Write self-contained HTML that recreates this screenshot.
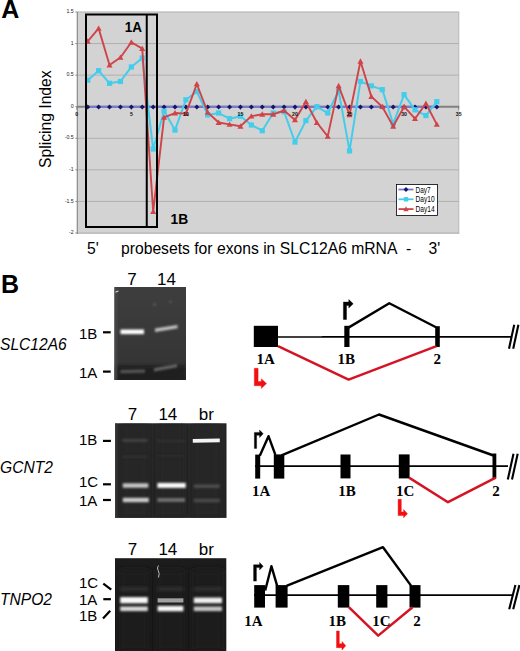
<!DOCTYPE html>
<html><head><meta charset="utf-8"><style>
html,body{margin:0;padding:0;background:#fff;overflow:hidden;width:520px;height:651px;}
svg{display:block;}
</style></head><body>
<svg width="520" height="651" viewBox="0 0 520 651">
<defs><filter id="bl0_8" filterUnits="userSpaceOnUse" x="0" y="0" width="520" height="651"><feGaussianBlur stdDeviation="0.8"/></filter><filter id="bl1_5" filterUnits="userSpaceOnUse" x="0" y="0" width="520" height="651"><feGaussianBlur stdDeviation="1.5"/></filter><filter id="bl1_1" filterUnits="userSpaceOnUse" x="0" y="0" width="520" height="651"><feGaussianBlur stdDeviation="1.1"/></filter><filter id="bl3_0" filterUnits="userSpaceOnUse" x="0" y="0" width="520" height="651"><feGaussianBlur stdDeviation="3.0"/></filter><filter id="bl0_5" filterUnits="userSpaceOnUse" x="0" y="0" width="520" height="651"><feGaussianBlur stdDeviation="0.5"/></filter><filter id="bl1_2" filterUnits="userSpaceOnUse" x="0" y="0" width="520" height="651"><feGaussianBlur stdDeviation="1.2"/></filter><filter id="bl0_7" filterUnits="userSpaceOnUse" x="0" y="0" width="520" height="651"><feGaussianBlur stdDeviation="0.7"/></filter><filter id="bl0_9" filterUnits="userSpaceOnUse" x="0" y="0" width="520" height="651"><feGaussianBlur stdDeviation="0.9"/></filter><filter id="bl1_0" filterUnits="userSpaceOnUse" x="0" y="0" width="520" height="651"><feGaussianBlur stdDeviation="1.0"/></filter><linearGradient id="g1" x1="0" y1="0" x2="0" y2="1"><stop offset="0" stop-color="#3e3e3e"/><stop offset="0.8" stop-color="#353535"/><stop offset="1" stop-color="#2c2c2c"/></linearGradient><linearGradient id="g2" x1="0" y1="0" x2="0" y2="1"><stop offset="0" stop-color="#262626"/><stop offset="1" stop-color="#222"/></linearGradient><linearGradient id="g3" x1="0" y1="0" x2="0" y2="1"><stop offset="0" stop-color="#1c1c1c"/><stop offset="1" stop-color="#191919"/></linearGradient></defs>
<rect x="77.3" y="12.0" width="381.9" height="222.0" fill="#d3d3d3"/>
<line x1="77.3" x2="459.2" y1="11.975000000000009" y2="11.975000000000009" stroke="#b0b0b0" stroke-width="1"/>
<line x1="77.3" x2="459.2" y1="43.550000000000004" y2="43.550000000000004" stroke="#b0b0b0" stroke-width="1"/>
<line x1="77.3" x2="459.2" y1="75.125" y2="75.125" stroke="#b0b0b0" stroke-width="1"/>
<line x1="77.3" x2="459.2" y1="138.275" y2="138.275" stroke="#b0b0b0" stroke-width="1"/>
<line x1="77.3" x2="459.2" y1="169.85" y2="169.85" stroke="#b0b0b0" stroke-width="1"/>
<line x1="77.3" x2="459.2" y1="201.425" y2="201.425" stroke="#b0b0b0" stroke-width="1"/>
<line x1="77.3" x2="459.2" y1="233.0" y2="233.0" stroke="#b0b0b0" stroke-width="1"/>
<line x1="458.7" x2="458.7" y1="12.0" y2="234.0" stroke="#bcbcbc" stroke-width="1"/>
<line x1="77.3" x2="77.3" y1="12.0" y2="234.0" stroke="#8a8a8a" stroke-width="1.2"/>
<line x1="75.3" x2="77.3" y1="11.975000000000009" y2="11.975000000000009" stroke="#777" stroke-width="0.8"/>
<text x="73.7" y="13.075000000000008" font-size="5.2" text-anchor="end" fill="#222" font-family='"Liberation Sans", sans-serif'>1.5</text>
<line x1="75.3" x2="77.3" y1="43.550000000000004" y2="43.550000000000004" stroke="#777" stroke-width="0.8"/>
<text x="73.7" y="44.650000000000006" font-size="5.2" text-anchor="end" fill="#222" font-family='"Liberation Sans", sans-serif'>1</text>
<line x1="75.3" x2="77.3" y1="75.125" y2="75.125" stroke="#777" stroke-width="0.8"/>
<text x="73.7" y="76.225" font-size="5.2" text-anchor="end" fill="#222" font-family='"Liberation Sans", sans-serif'>0.5</text>
<line x1="75.3" x2="77.3" y1="106.7" y2="106.7" stroke="#777" stroke-width="0.8"/>
<text x="73.7" y="107.8" font-size="5.2" text-anchor="end" fill="#222" font-family='"Liberation Sans", sans-serif'>0</text>
<line x1="75.3" x2="77.3" y1="138.275" y2="138.275" stroke="#777" stroke-width="0.8"/>
<text x="73.7" y="139.375" font-size="5.2" text-anchor="end" fill="#222" font-family='"Liberation Sans", sans-serif'>-0.5</text>
<line x1="75.3" x2="77.3" y1="169.85" y2="169.85" stroke="#777" stroke-width="0.8"/>
<text x="73.7" y="170.95" font-size="5.2" text-anchor="end" fill="#222" font-family='"Liberation Sans", sans-serif'>-1</text>
<line x1="75.3" x2="77.3" y1="201.425" y2="201.425" stroke="#777" stroke-width="0.8"/>
<text x="73.7" y="202.525" font-size="5.2" text-anchor="end" fill="#222" font-family='"Liberation Sans", sans-serif'>-1.5</text>
<line x1="75.3" x2="77.3" y1="233.0" y2="233.0" stroke="#777" stroke-width="0.8"/>
<text x="73.7" y="234.1" font-size="5.2" text-anchor="end" fill="#222" font-family='"Liberation Sans", sans-serif'>-2</text>
<line x1="77.3" x2="459.2" y1="106.7" y2="106.7" stroke="#808080" stroke-width="2"/>
<line x1="76.8" x2="76.8" y1="106.7" y2="109.7" stroke="#777" stroke-width="0.8"/>
<line x1="131.35" x2="131.35" y1="106.7" y2="109.7" stroke="#777" stroke-width="0.8"/>
<line x1="185.89999999999998" x2="185.89999999999998" y1="106.7" y2="109.7" stroke="#777" stroke-width="0.8"/>
<line x1="240.45" x2="240.45" y1="106.7" y2="109.7" stroke="#777" stroke-width="0.8"/>
<line x1="295.0" x2="295.0" y1="106.7" y2="109.7" stroke="#777" stroke-width="0.8"/>
<line x1="349.55" x2="349.55" y1="106.7" y2="109.7" stroke="#777" stroke-width="0.8"/>
<line x1="404.1" x2="404.1" y1="106.7" y2="109.7" stroke="#777" stroke-width="0.8"/>
<line x1="458.65000000000003" x2="458.65000000000003" y1="106.7" y2="109.7" stroke="#777" stroke-width="0.8"/>
<line x1="87.71" x2="436.83000000000004" y1="106.9" y2="106.9" stroke="#7a7ac6" stroke-width="2.2"/>
<path d="M87.71 104.40 L90.21 106.90 L87.71 109.40 L85.21 106.90Z" fill="#14146e"/>
<path d="M98.62 104.40 L101.12 106.90 L98.62 109.40 L96.12 106.90Z" fill="#14146e"/>
<path d="M109.53 104.40 L112.03 106.90 L109.53 109.40 L107.03 106.90Z" fill="#14146e"/>
<path d="M120.44 104.40 L122.94 106.90 L120.44 109.40 L117.94 106.90Z" fill="#14146e"/>
<path d="M131.35 104.40 L133.85 106.90 L131.35 109.40 L128.85 106.90Z" fill="#14146e"/>
<path d="M142.26 104.40 L144.76 106.90 L142.26 109.40 L139.76 106.90Z" fill="#14146e"/>
<path d="M153.17 104.40 L155.67 106.90 L153.17 109.40 L150.67 106.90Z" fill="#14146e"/>
<path d="M164.08 104.40 L166.58 106.90 L164.08 109.40 L161.58 106.90Z" fill="#14146e"/>
<path d="M174.99 104.40 L177.49 106.90 L174.99 109.40 L172.49 106.90Z" fill="#14146e"/>
<path d="M185.90 104.40 L188.40 106.90 L185.90 109.40 L183.40 106.90Z" fill="#14146e"/>
<path d="M196.81 104.40 L199.31 106.90 L196.81 109.40 L194.31 106.90Z" fill="#14146e"/>
<path d="M207.72 104.40 L210.22 106.90 L207.72 109.40 L205.22 106.90Z" fill="#14146e"/>
<path d="M218.63 104.40 L221.13 106.90 L218.63 109.40 L216.13 106.90Z" fill="#14146e"/>
<path d="M229.54 104.40 L232.04 106.90 L229.54 109.40 L227.04 106.90Z" fill="#14146e"/>
<path d="M240.45 104.40 L242.95 106.90 L240.45 109.40 L237.95 106.90Z" fill="#14146e"/>
<path d="M251.36 104.40 L253.86 106.90 L251.36 109.40 L248.86 106.90Z" fill="#14146e"/>
<path d="M262.27 104.40 L264.77 106.90 L262.27 109.40 L259.77 106.90Z" fill="#14146e"/>
<path d="M273.18 104.40 L275.68 106.90 L273.18 109.40 L270.68 106.90Z" fill="#14146e"/>
<path d="M284.09 104.40 L286.59 106.90 L284.09 109.40 L281.59 106.90Z" fill="#14146e"/>
<path d="M295.00 104.40 L297.50 106.90 L295.00 109.40 L292.50 106.90Z" fill="#14146e"/>
<path d="M305.91 104.40 L308.41 106.90 L305.91 109.40 L303.41 106.90Z" fill="#14146e"/>
<path d="M316.82 104.40 L319.32 106.90 L316.82 109.40 L314.32 106.90Z" fill="#14146e"/>
<path d="M327.73 104.40 L330.23 106.90 L327.73 109.40 L325.23 106.90Z" fill="#14146e"/>
<path d="M338.64 104.40 L341.14 106.90 L338.64 109.40 L336.14 106.90Z" fill="#14146e"/>
<path d="M349.55 104.40 L352.05 106.90 L349.55 109.40 L347.05 106.90Z" fill="#14146e"/>
<path d="M360.46 104.40 L362.96 106.90 L360.46 109.40 L357.96 106.90Z" fill="#14146e"/>
<path d="M371.37 104.40 L373.87 106.90 L371.37 109.40 L368.87 106.90Z" fill="#14146e"/>
<path d="M382.28 104.40 L384.78 106.90 L382.28 109.40 L379.78 106.90Z" fill="#14146e"/>
<path d="M393.19 104.40 L395.69 106.90 L393.19 109.40 L390.69 106.90Z" fill="#14146e"/>
<path d="M404.10 104.40 L406.60 106.90 L404.10 109.40 L401.60 106.90Z" fill="#14146e"/>
<path d="M415.01 104.40 L417.51 106.90 L415.01 109.40 L412.51 106.90Z" fill="#14146e"/>
<path d="M425.92 104.40 L428.42 106.90 L425.92 109.40 L423.42 106.90Z" fill="#14146e"/>
<path d="M436.83 104.40 L439.33 106.90 L436.83 109.40 L434.33 106.90Z" fill="#14146e"/>
<polyline points="87.71,80.18 98.62,70.70 109.53,83.33 120.44,81.44 131.35,66.92 142.26,58.07 153.17,149.01 164.08,111.12 174.99,130.07 185.90,99.75 196.81,91.54 207.72,114.91 218.63,113.02 229.54,118.70 240.45,116.17 251.36,125.01 262.27,130.70 273.18,113.02 284.09,111.75 295.00,142.06 305.91,120.59 316.82,106.70 327.73,113.02 338.64,90.91 349.55,150.91 360.46,81.44 371.37,85.86 382.28,89.65 393.19,123.75 404.10,94.70 415.01,109.86 425.92,115.54 436.83,101.65" fill="none" stroke="#44cdea" stroke-width="2" stroke-linejoin="round"/>
<rect x="85.11" y="77.58" width="5.2" height="5.2" fill="#44cdea"/>
<rect x="96.02" y="68.10" width="5.2" height="5.2" fill="#44cdea"/>
<rect x="106.93" y="80.73" width="5.2" height="5.2" fill="#44cdea"/>
<rect x="117.84" y="78.84" width="5.2" height="5.2" fill="#44cdea"/>
<rect x="128.75" y="64.32" width="5.2" height="5.2" fill="#44cdea"/>
<rect x="139.66" y="55.47" width="5.2" height="5.2" fill="#44cdea"/>
<rect x="150.57" y="146.41" width="5.2" height="5.2" fill="#44cdea"/>
<rect x="161.48" y="108.52" width="5.2" height="5.2" fill="#44cdea"/>
<rect x="172.39" y="127.47" width="5.2" height="5.2" fill="#44cdea"/>
<rect x="183.30" y="97.15" width="5.2" height="5.2" fill="#44cdea"/>
<rect x="194.21" y="88.94" width="5.2" height="5.2" fill="#44cdea"/>
<rect x="205.12" y="112.31" width="5.2" height="5.2" fill="#44cdea"/>
<rect x="216.03" y="110.42" width="5.2" height="5.2" fill="#44cdea"/>
<rect x="226.94" y="116.10" width="5.2" height="5.2" fill="#44cdea"/>
<rect x="237.85" y="113.57" width="5.2" height="5.2" fill="#44cdea"/>
<rect x="248.76" y="122.41" width="5.2" height="5.2" fill="#44cdea"/>
<rect x="259.67" y="128.10" width="5.2" height="5.2" fill="#44cdea"/>
<rect x="270.58" y="110.42" width="5.2" height="5.2" fill="#44cdea"/>
<rect x="281.49" y="109.15" width="5.2" height="5.2" fill="#44cdea"/>
<rect x="292.40" y="139.46" width="5.2" height="5.2" fill="#44cdea"/>
<rect x="303.31" y="117.99" width="5.2" height="5.2" fill="#44cdea"/>
<rect x="314.22" y="104.10" width="5.2" height="5.2" fill="#44cdea"/>
<rect x="325.13" y="110.42" width="5.2" height="5.2" fill="#44cdea"/>
<rect x="336.04" y="88.31" width="5.2" height="5.2" fill="#44cdea"/>
<rect x="346.95" y="148.31" width="5.2" height="5.2" fill="#44cdea"/>
<rect x="357.86" y="78.84" width="5.2" height="5.2" fill="#44cdea"/>
<rect x="368.77" y="83.26" width="5.2" height="5.2" fill="#44cdea"/>
<rect x="379.68" y="87.05" width="5.2" height="5.2" fill="#44cdea"/>
<rect x="390.59" y="121.15" width="5.2" height="5.2" fill="#44cdea"/>
<rect x="401.50" y="92.10" width="5.2" height="5.2" fill="#44cdea"/>
<rect x="412.41" y="107.26" width="5.2" height="5.2" fill="#44cdea"/>
<rect x="423.32" y="112.94" width="5.2" height="5.2" fill="#44cdea"/>
<rect x="434.23" y="99.05" width="5.2" height="5.2" fill="#44cdea"/>
<polyline points="87.71,41.28 98.62,28.39 109.53,65.02 120.44,57.44 131.35,42.29 142.26,48.60 153.17,211.53 164.08,117.44 174.99,113.02 185.90,113.65 196.81,83.97 207.72,112.38 218.63,122.49 229.54,124.38 240.45,126.28 251.36,116.17 262.27,114.28 273.18,114.28 284.09,110.49 295.00,119.96 305.91,101.65 316.82,122.49 327.73,136.38 338.64,85.86 349.55,114.91 360.46,61.23 371.37,96.60 382.28,106.70 393.19,126.28 404.10,106.70 415.01,118.70 425.92,103.54 436.83,124.38" fill="none" stroke="#cf4448" stroke-width="1.9" stroke-linejoin="round"/>
<path d="M87.71 38.28 L90.71 43.68 L84.71 43.68Z" fill="#cf4448"/>
<path d="M98.62 25.39 L101.62 30.79 L95.62 30.79Z" fill="#cf4448"/>
<path d="M109.53 62.02 L112.53 67.42 L106.53 67.42Z" fill="#cf4448"/>
<path d="M120.44 54.44 L123.44 59.84 L117.44 59.84Z" fill="#cf4448"/>
<path d="M131.35 39.29 L134.35 44.69 L128.35 44.69Z" fill="#cf4448"/>
<path d="M142.26 45.60 L145.26 51.00 L139.26 51.00Z" fill="#cf4448"/>
<path d="M153.17 208.53 L156.17 213.93 L150.17 213.93Z" fill="#cf4448"/>
<path d="M164.08 114.44 L167.08 119.84 L161.08 119.84Z" fill="#cf4448"/>
<path d="M174.99 110.02 L177.99 115.42 L171.99 115.42Z" fill="#cf4448"/>
<path d="M185.90 110.65 L188.90 116.05 L182.90 116.05Z" fill="#cf4448"/>
<path d="M196.81 80.97 L199.81 86.37 L193.81 86.37Z" fill="#cf4448"/>
<path d="M207.72 109.38 L210.72 114.78 L204.72 114.78Z" fill="#cf4448"/>
<path d="M218.63 119.49 L221.63 124.89 L215.63 124.89Z" fill="#cf4448"/>
<path d="M229.54 121.38 L232.54 126.78 L226.54 126.78Z" fill="#cf4448"/>
<path d="M240.45 123.28 L243.45 128.68 L237.45 128.68Z" fill="#cf4448"/>
<path d="M251.36 113.17 L254.36 118.57 L248.36 118.57Z" fill="#cf4448"/>
<path d="M262.27 111.28 L265.27 116.68 L259.27 116.68Z" fill="#cf4448"/>
<path d="M273.18 111.28 L276.18 116.68 L270.18 116.68Z" fill="#cf4448"/>
<path d="M284.09 107.49 L287.09 112.89 L281.09 112.89Z" fill="#cf4448"/>
<path d="M295.00 116.96 L298.00 122.36 L292.00 122.36Z" fill="#cf4448"/>
<path d="M305.91 98.65 L308.91 104.05 L302.91 104.05Z" fill="#cf4448"/>
<path d="M316.82 119.49 L319.82 124.89 L313.82 124.89Z" fill="#cf4448"/>
<path d="M327.73 133.38 L330.73 138.78 L324.73 138.78Z" fill="#cf4448"/>
<path d="M338.64 82.86 L341.64 88.26 L335.64 88.26Z" fill="#cf4448"/>
<path d="M349.55 111.91 L352.55 117.31 L346.55 117.31Z" fill="#cf4448"/>
<path d="M360.46 58.23 L363.46 63.63 L357.46 63.63Z" fill="#cf4448"/>
<path d="M371.37 93.60 L374.37 99.00 L368.37 99.00Z" fill="#cf4448"/>
<path d="M382.28 103.70 L385.28 109.10 L379.28 109.10Z" fill="#cf4448"/>
<path d="M393.19 123.28 L396.19 128.68 L390.19 128.68Z" fill="#cf4448"/>
<path d="M404.10 103.70 L407.10 109.10 L401.10 109.10Z" fill="#cf4448"/>
<path d="M415.01 115.70 L418.01 121.10 L412.01 121.10Z" fill="#cf4448"/>
<path d="M425.92 100.54 L428.92 105.94 L422.92 105.94Z" fill="#cf4448"/>
<path d="M436.83 121.38 L439.83 126.78 L433.83 126.78Z" fill="#cf4448"/>
<text x="76.8" y="116.0" font-size="5.2" font-weight="bold" text-anchor="middle" fill="#111" font-family='"Liberation Sans", sans-serif'>0</text>
<text x="131.35" y="116.0" font-size="5.2" font-weight="bold" text-anchor="middle" fill="#111" font-family='"Liberation Sans", sans-serif'>5</text>
<text x="185.89999999999998" y="116.0" font-size="5.2" font-weight="bold" text-anchor="middle" fill="#111" font-family='"Liberation Sans", sans-serif'>10</text>
<text x="240.45" y="116.0" font-size="5.2" font-weight="bold" text-anchor="middle" fill="#111" font-family='"Liberation Sans", sans-serif'>15</text>
<text x="295.0" y="116.0" font-size="5.2" font-weight="bold" text-anchor="middle" fill="#111" font-family='"Liberation Sans", sans-serif'>20</text>
<text x="349.55" y="116.0" font-size="5.2" font-weight="bold" text-anchor="middle" fill="#111" font-family='"Liberation Sans", sans-serif'>25</text>
<text x="404.1" y="116.0" font-size="5.2" font-weight="bold" text-anchor="middle" fill="#111" font-family='"Liberation Sans", sans-serif'>30</text>
<text x="458.65000000000003" y="116.0" font-size="5.2" font-weight="bold" text-anchor="middle" fill="#111" font-family='"Liberation Sans", sans-serif'>35</text>
<rect x="86" y="14.5" width="71" height="212.5" fill="none" stroke="#000" stroke-width="2"/>
<line x1="146.75" x2="146.75" y1="14.5" y2="227" stroke="#000" stroke-width="2"/>
<text x="124.8" y="31.7" font-size="14" textLength="17.2" lengthAdjust="spacingAndGlyphs" font-weight="bold" font-family='"Liberation Sans", sans-serif'>1A</text>
<text x="170.6" y="223.9" font-size="13.8" textLength="17.6" lengthAdjust="spacingAndGlyphs" font-weight="bold" font-family='"Liberation Sans", sans-serif'>1B</text>
<rect x="396.5" y="184.5" width="41" height="31" fill="#fff" stroke="#000" stroke-width="0.8"/>
<line x1="398.5" x2="413.5" y1="189.5" y2="189.5" stroke="#7a7ac6" stroke-width="1.8"/>
<path d="M406 187.1 L408.4 189.5 L406 191.9 L403.6 189.5Z" fill="#14146e"/>
<text x="415.6" y="192.6" font-size="8.6" textLength="15" lengthAdjust="spacingAndGlyphs" font-family='"Liberation Sans", sans-serif'>Day7</text>
<line x1="398.5" x2="413.5" y1="199.3" y2="199.3" stroke="#44cdea" stroke-width="1.8"/>
<rect x="403.8" y="197.10000000000002" width="4.4" height="4.4" fill="#44cdea"/>
<text x="415.6" y="202.4" font-size="8.6" textLength="19" lengthAdjust="spacingAndGlyphs" font-family='"Liberation Sans", sans-serif'>Day10</text>
<line x1="398.5" x2="413.5" y1="209.1" y2="209.1" stroke="#cf4448" stroke-width="1.8"/>
<path d="M406 206.29999999999998 L408.7 211.2 L403.3 211.2Z" fill="#cf4448"/>
<text x="415.6" y="212.2" font-size="8.6" textLength="19" lengthAdjust="spacingAndGlyphs" font-family='"Liberation Sans", sans-serif'>Day14</text>
<text transform="translate(51,119.2) rotate(-90)" font-size="15.7" text-anchor="middle" font-family='"Liberation Sans", sans-serif'>Splicing Index</text>
<text x="87" y="254.1" font-size="15.7" font-family='"Liberation Sans", sans-serif'>5'</text>
<text x="121" y="254.1" font-size="15.7" font-family='"Liberation Sans", sans-serif'>probesets for exons in SLC12A6 mRNA</text>
<text x="406" y="254.1" font-size="15.7" font-family='"Liberation Sans", sans-serif'>-</text>
<text x="428.5" y="254.1" font-size="15.7" font-family='"Liberation Sans", sans-serif'>3'</text>
<text x="1.3" y="17.7" font-size="25" font-weight="bold" font-family='"Liberation Sans", sans-serif'>A</text>
<text x="1.0" y="292.8" font-size="25" font-weight="bold" font-family='"Liberation Sans", sans-serif'>B</text>
<rect x="114.4" y="287" width="71.6" height="93" fill="url(#g1)"/>
<clipPath id="c1"><rect x="114.4" y="287" width="71.6" height="93"/></clipPath>
<g clip-path="url(#c1)">
<rect x="114.4" y="365.5" width="71.6" height="16" fill="#1c1c1c" opacity="0.8" filter="url(#bl1_5)"/>
<rect x="114" y="287" width="3" height="93" fill="#4a4a4a" opacity="1.0" filter="url(#bl0_8)"/>
<path d="M115.5 291.60 L118.5 290.40 L118.5 291.60 L115.5 292.80Z" fill="#dddddd" opacity="1.0" filter="url(#bl0_5)"/>
<path d="M153.5 303.50 L155.5 303.50 L155.5 305.50 L153.5 305.50Z" fill="#707070" opacity="1.0" filter="url(#bl0_8)"/>
<path d="M169.5 300.80 L171.5 300.80 L171.5 302.80 L169.5 302.80Z" fill="#606060" opacity="1.0" filter="url(#bl0_8)"/>
<path d="M120.5 329.50 L144 329.50 L144 334.10 L120.5 334.10Z" fill="#ffffff" opacity="1.0" filter="url(#bl0_8)"/>
<path d="M155 328.50 L177.5 324.90 L177.5 328.30 L155 331.90Z" fill="#c4c4c4" opacity="1.0" filter="url(#bl0_8)"/>
<path d="M120.5 370.00 L145 369.60 L145 372.80 L120.5 373.20Z" fill="#565656" opacity="1.0" filter="url(#bl1_1)"/>
<path d="M154 368.20 L177 364.00 L177 367.20 L154 371.40Z" fill="#666666" opacity="1.0" filter="url(#bl1_1)"/>
</g>
<rect x="115.1" y="423.3" width="111.4" height="94.6" fill="url(#g2)"/>
<clipPath id="c2"><rect x="115.1" y="423.3" width="111.4" height="94.6"/></clipPath>
<g clip-path="url(#c2)">
<rect x="121" y="423" width="28" height="95" fill="#282828" opacity="1.0" filter="url(#bl3_0)"/>
<rect x="156.5" y="423" width="29" height="95" fill="#282828" opacity="1.0" filter="url(#bl3_0)"/>
<rect x="192" y="423" width="29" height="95" fill="#272727" opacity="1.0" filter="url(#bl3_0)"/>
<rect x="114" y="423" width="3" height="95" fill="#3a3a3a" opacity="1.0" filter="url(#bl0_8)"/>
<path d="M122.5 455.05 L147.5 455.05 L147.5 457.55 L122.5 457.55Z" fill="#2e2e2e" opacity="1.0" filter="url(#bl1_2)"/>
<path d="M157.5 455.05 L185 455.05 L185 457.55 L157.5 457.55Z" fill="#2c2c2c" opacity="1.0" filter="url(#bl1_2)"/>
<path d="M192.8 439.00 L219.8 438.40 L219.8 442.20 L192.8 442.80Z" fill="#f4f4f4" opacity="1.0" filter="url(#bl0_7)"/>
<path d="M122.5 438.90 L147.5 438.90 L147.5 441.90 L122.5 441.90Z" fill="#424242" opacity="1.0" filter="url(#bl1_1)"/>
<path d="M157.5 439.70 L185 439.70 L185 442.30 L157.5 442.30Z" fill="#303030" opacity="1.0" filter="url(#bl1_1)"/>
<path d="M122.8 483.30 L148.3 483.30 L148.3 487.70 L122.8 487.70Z" fill="#c8c8c8" opacity="1.0" filter="url(#bl0_9)"/>
<path d="M157.4 482.90 L185.7 482.90 L185.7 487.90 L157.4 487.90Z" fill="#fafafa" opacity="1.0" filter="url(#bl0_8)"/>
<path d="M193.7 484.40 L219.8 484.40 L219.8 488.00 L193.7 488.00Z" fill="#4e4e4e" opacity="1.0" filter="url(#bl1_0)"/>
<path d="M122.8 497.80 L148.8 497.80 L148.8 502.20 L122.8 502.20Z" fill="#cccccc" opacity="1.0" filter="url(#bl0_9)"/>
<path d="M157.4 498.10 L185 498.10 L185 501.90 L157.4 501.90Z" fill="#727272" opacity="1.0" filter="url(#bl1_0)"/>
<path d="M193.7 498.70 L219.8 498.70 L219.8 502.30 L193.7 502.30Z" fill="#4a4a4a" opacity="1.0" filter="url(#bl1_0)"/>
</g>
<rect x="115" y="558.2" width="111.3" height="93" fill="url(#g3)"/>
<clipPath id="c3"><rect x="115" y="558.2" width="111.3" height="93"/></clipPath>
<g clip-path="url(#c3)">
<rect x="119" y="570" width="30" height="81" fill="#1f1f1f" opacity="1.0" filter="url(#bl3_0)"/>
<rect x="156" y="570" width="29" height="81" fill="#1f1f1f" opacity="1.0" filter="url(#bl3_0)"/>
<rect x="192.5" y="570" width="31" height="81" fill="#1f1f1f" opacity="1.0" filter="url(#bl3_0)"/>
<path d="M120 587.00 L148 587.00 L148 591.00 L120 591.00Z" fill="#2e2e2e" opacity="1.0" filter="url(#bl1_5)"/>
<path d="M157.4 587.00 L183.5 587.00 L183.5 591.00 L157.4 591.00Z" fill="#2e2e2e" opacity="1.0" filter="url(#bl1_5)"/>
<path d="M193.7 587.00 L222 587.00 L222 591.00 L193.7 591.00Z" fill="#2e2e2e" opacity="1.0" filter="url(#bl1_5)"/>
<path d="M120.2 597.10 L147.8 597.10 L147.8 603.30 L120.2 603.30Z" fill="#f8f8f8" opacity="1.0" filter="url(#bl0_8)"/>
<path d="M120.2 606.50 L147.8 606.50 L147.8 611.10 L120.2 611.10Z" fill="#dadada" opacity="1.0" filter="url(#bl0_8)"/>
<path d="M157.6 598.30 L183.4 598.30 L183.4 602.50 L157.6 602.50Z" fill="#a0a0a0" opacity="1.0" filter="url(#bl0_7)"/>
<path d="M157.6 605.90 L183.4 605.90 L183.4 611.30 L157.6 611.30Z" fill="#f6f6f6" opacity="1.0" filter="url(#bl0_8)"/>
<path d="M193.8 597.60 L222 597.60 L222 603.20 L193.8 603.20Z" fill="#f0f0f0" opacity="1.0" filter="url(#bl0_8)"/>
<path d="M193.8 606.50 L222 606.50 L222 611.10 L193.8 611.10Z" fill="#c6c6c6" opacity="1.0" filter="url(#bl0_8)"/>
<path d="M158.5 565.5 Q156.5 568 158.2 570.5 Q160 573 158.5 577.5" fill="none" stroke="#bbbbbb" stroke-width="1" filter="url(#bl0_5)"/>
</g>
<text x="127.3" y="284.75" font-size="17" font-family='"Liberation Sans", sans-serif'>7</text>
<text x="157.1" y="284.75" font-size="17" font-family='"Liberation Sans", sans-serif'>14</text>
<text x="127.7" y="419.8" font-size="17" font-family='"Liberation Sans", sans-serif'>7</text>
<text x="158.4" y="419.8" font-size="17" font-family='"Liberation Sans", sans-serif'>14</text>
<text x="198.8" y="419.8" font-size="17" font-family='"Liberation Sans", sans-serif'>br</text>
<text x="127.7" y="554.8" font-size="17" font-family='"Liberation Sans", sans-serif'>7</text>
<text x="158.4" y="554.8" font-size="17" font-family='"Liberation Sans", sans-serif'>14</text>
<text x="198.8" y="554.8" font-size="17" font-family='"Liberation Sans", sans-serif'>br</text>
<text x="79" y="338.9" font-size="15" font-family='"Liberation Sans", sans-serif'>1B</text>
<line x1="103" x2="110.7" y1="332.3" y2="332.3" stroke="#000" stroke-width="2.2"/>
<text x="79" y="377.6" font-size="15" font-family='"Liberation Sans", sans-serif'>1A</text>
<line x1="103" x2="110.7" y1="371.6" y2="371.6" stroke="#000" stroke-width="2.2"/>
<text x="79" y="444.5" font-size="15" font-family='"Liberation Sans", sans-serif'>1B</text>
<line x1="103" x2="110.9" y1="440.9" y2="440.9" stroke="#000" stroke-width="2.2"/>
<text x="79" y="486.6" font-size="15" font-family='"Liberation Sans", sans-serif'>1C</text>
<line x1="103" x2="110.9" y1="484.3" y2="484.3" stroke="#000" stroke-width="2.2"/>
<text x="79" y="505.6" font-size="15" font-family='"Liberation Sans", sans-serif'>1A</text>
<line x1="103" x2="110.9" y1="500" y2="500" stroke="#000" stroke-width="2.2"/>
<text x="79" y="588.4" font-size="15" font-family='"Liberation Sans", sans-serif'>1C</text>
<line x1="103.3" x2="111.2" y1="583.6" y2="589.6" stroke="#000" stroke-width="2.2"/>
<text x="79" y="604.8" font-size="15" font-family='"Liberation Sans", sans-serif'>1A</text>
<line x1="103.3" x2="110.9" y1="599.2" y2="599.2" stroke="#000" stroke-width="2.2"/>
<text x="79" y="620.9" font-size="15" font-family='"Liberation Sans", sans-serif'>1B</text>
<line x1="103" x2="110.2" y1="618.6" y2="610.7" stroke="#000" stroke-width="2.2"/>
<text x="0" y="350.3" font-size="15.6" font-style="italic" font-family='"Liberation Sans", sans-serif'>SLC12A6</text>
<text x="0" y="473.2" font-size="15.6" font-style="italic" font-family='"Liberation Sans", sans-serif'>GCNT2</text>
<text x="0" y="604.6" font-size="15.6" font-style="italic" font-family='"Liberation Sans", sans-serif'>TNPO2</text>
<line x1="278" x2="322" y1="337.1" y2="337.1" stroke="#000" stroke-width="1.5"/>
<line x1="322" x2="511" y1="336.9" y2="336.9" stroke="#000" stroke-width="1.8"/>
<rect x="253.8" y="325.8" width="24.20" height="21.20" fill="#000"/>
<rect x="344.3" y="325.8" width="5.20" height="21.20" fill="#000"/>
<rect x="435.2" y="326.2" width="4.60" height="20.80" fill="#000"/>
<polyline points="348.5,327.6 389.3,303.2 436,327.3" fill="none" stroke="#000" stroke-width="2.4" stroke-linejoin="round" stroke-linecap="butt"/>
<polyline points="278,346.2 348.6,379.6 436.5,346.2" fill="none" stroke="#d41424" stroke-width="2.5" stroke-linejoin="round" stroke-linecap="butt"/>
<path d="M343.4 319.5 L343.4 302.1 L348.8 302.1 L348.8 299.6 L353.2 303.8 L348.8 308.0 L348.8 305.5 L346.5 305.5 L346.5 319.5Z" fill="#000" stroke="#000" stroke-width="0.4" stroke-linejoin="round"/>
<path d="M254.3 368.3 L258.1 368.3 L258.1 381.5 L261.3 381.5 L261.3 378.79999999999995 L266.5 383.59999999999997 L261.3 388.4 L261.3 385.7 L254.3 385.7Z" fill="#f01010" stroke="#f01010" stroke-width="0.4" stroke-linejoin="round"/>
<line x1="509" y1="348.7" x2="514.2" y2="324.8" stroke="#000" stroke-width="2.1"/>
<line x1="513.2" y1="348.7" x2="518.4000000000001" y2="324.8" stroke="#000" stroke-width="2.1"/>
<text x="256.4" y="364" font-size="15" font-weight="bold" font-family='"Liberation Serif", serif'>1A</text>
<text x="337.4" y="364" font-size="15" font-weight="bold" font-family='"Liberation Serif", serif'>1B</text>
<text x="433.4" y="364" font-size="15" font-weight="bold" font-family='"Liberation Serif", serif'>2</text>
<line x1="255" x2="508" y1="466.1" y2="466.1" stroke="#000" stroke-width="1.7"/>
<rect x="255.2" y="454.6" width="5.00" height="24.00" fill="#000"/>
<rect x="273.8" y="454.4" width="10.50" height="24.20" fill="#000"/>
<rect x="340.5" y="454.5" width="10.00" height="23.90" fill="#000"/>
<rect x="398.8" y="454.4" width="10.80" height="24.00" fill="#000"/>
<rect x="492.5" y="453.5" width="3.80" height="24.70" fill="#000"/>
<polyline points="259.8,455.8 268.5,436.2 275.4,454.8" fill="none" stroke="#000" stroke-width="2.4" stroke-linejoin="round" stroke-linecap="butt"/>
<polyline points="281.5,455.4 379,414.5 493.5,455.5" fill="none" stroke="#000" stroke-width="2.4" stroke-linejoin="round" stroke-linecap="butt"/>
<polyline points="409,477.6 448,502.2 495.8,477.6" fill="none" stroke="#d41424" stroke-width="2.5" stroke-linejoin="round" stroke-linecap="butt"/>
<path d="M254.4 448.4 L254.4 432.4 L259.6 432.4 L259.6 430.09999999999997 L263.2 433.79999999999995 L259.6 437.49999999999994 L259.6 435.2 L256.6 435.2 L256.6 448.4Z" fill="#000" stroke="#000" stroke-width="0.4" stroke-linejoin="round"/>
<path d="M398.1 499.3 L401.3 499.3 L401.3 511.9 L403.6 511.9 L403.6 509.6 L407.5 513.7 L403.6 517.8000000000001 L403.6 515.5 L398.1 515.5Z" fill="#f01010" stroke="#f01010" stroke-width="0.4" stroke-linejoin="round"/>
<line x1="507.8" y1="479.4" x2="513.5" y2="453.8" stroke="#000" stroke-width="2.1"/>
<line x1="512.0" y1="479.4" x2="517.7" y2="453.8" stroke="#000" stroke-width="2.1"/>
<text x="252" y="496.4" font-size="15" font-weight="bold" font-family='"Liberation Serif", serif'>1A</text>
<text x="338.2" y="496.4" font-size="15" font-weight="bold" font-family='"Liberation Serif", serif'>1B</text>
<text x="396.1" y="496.4" font-size="15" font-weight="bold" font-family='"Liberation Serif", serif'>1C</text>
<text x="492.3" y="496.4" font-size="15" font-weight="bold" font-family='"Liberation Serif", serif'>2</text>
<line x1="254" x2="512" y1="595.1" y2="595.1" stroke="#000" stroke-width="1.8"/>
<rect x="254.2" y="585.1" width="10.80" height="22.50" fill="#000"/>
<rect x="275.6" y="585.1" width="12.00" height="22.50" fill="#000"/>
<rect x="337.8" y="585.1" width="11.50" height="22.50" fill="#000"/>
<rect x="376.2" y="585.1" width="11.20" height="22.50" fill="#000"/>
<rect x="409.5" y="585.1" width="11.00" height="22.50" fill="#000"/>
<polyline points="265.2,590.5 271.4,566.2 277.1,585.6" fill="none" stroke="#000" stroke-width="2.4" stroke-linejoin="round" stroke-linecap="butt"/>
<polyline points="286.5,585.8 383,547.2 411,585.6" fill="none" stroke="#000" stroke-width="2.4" stroke-linejoin="round" stroke-linecap="butt"/>
<polyline points="348.8,607.2 378.2,635.6 412.5,607.2" fill="none" stroke="#d41424" stroke-width="2.5" stroke-linejoin="round" stroke-linecap="butt"/>
<path d="M253.6 581.1 L253.6 564.8 L259.6 564.8 L259.6 562.4999999999999 L263.2 566.1999999999999 L259.6 569.9 L259.6 567.5999999999999 L256.4 567.5999999999999 L256.4 581.1Z" fill="#000" stroke="#000" stroke-width="0.4" stroke-linejoin="round"/>
<path d="M336.5 631 L339.3 631 L339.3 643.7 L342 643.7 L342 641.5 L345.8 645.7 L342 649.9000000000001 L342 647.7 L336.5 647.7Z" fill="#f01010" stroke="#f01010" stroke-width="0.4" stroke-linejoin="round"/>
<line x1="509.2" y1="609.2" x2="515.4" y2="585" stroke="#000" stroke-width="2.1"/>
<line x1="513.2" y1="609.2" x2="519.4" y2="585" stroke="#000" stroke-width="2.1"/>
<text x="244.2" y="625.8" font-size="15" font-weight="bold" font-family='"Liberation Serif", serif'>1A</text>
<text x="328.4" y="625.6" font-size="15" font-weight="bold" font-family='"Liberation Serif", serif'>1B</text>
<text x="372.2" y="625.6" font-size="15" font-weight="bold" font-family='"Liberation Serif", serif'>1C</text>
<text x="413.2" y="625.6" font-size="15" font-weight="bold" font-family='"Liberation Serif", serif'>2</text>
</svg>
</body></html>
